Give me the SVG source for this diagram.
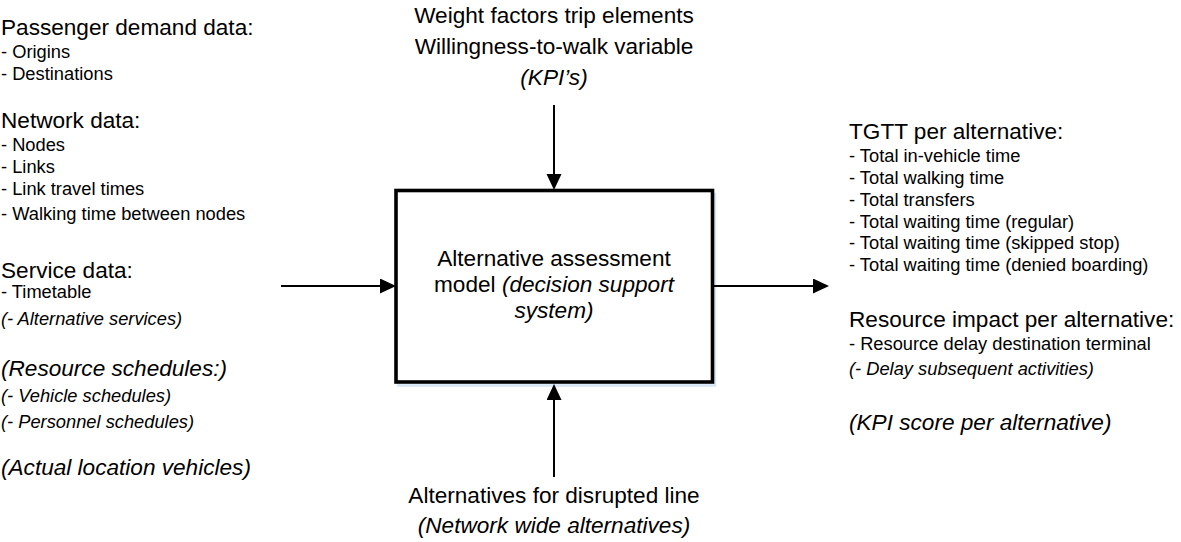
<svg xmlns="http://www.w3.org/2000/svg" width="1181" height="542" viewBox="0 0 1181 542">
  <style>
    text { font-family: "Liberation Sans", Arial, Helvetica, sans-serif; fill: #000; }
    .h { font-size: 22.6px; }
    .s { font-size: 18.3px; }
    .i { font-style: italic; }
    .c { text-anchor: middle; }
    .conn { stroke: #000; stroke-width: 2; fill: none; marker-end: url(#arrow); }
  </style>
  <defs>
    <marker id="arrow" markerUnits="userSpaceOnUse" markerWidth="17" markerHeight="16" refX="8" refY="7.5" orient="auto">
      <path d="M0,0 L16,7.5 L0,15 Z" fill="#000"/>
    </marker>
  </defs>

  <!-- inputs (left) -->
  <g id="inputs">
    <text class="h" x="1" y="35">Passenger demand data:</text>
    <text class="s" x="1" y="58">- Origins</text>
    <text class="s" x="1" y="80">- Destinations</text>
    <text class="h" x="1" y="128">Network data:</text>
    <text class="s" x="1" y="151">- Nodes</text>
    <text class="s" x="1" y="173">- Links</text>
    <text class="s" x="1" y="195">- Link travel times</text>
    <text class="s" x="1" y="220">- Walking time between nodes</text>
    <text class="h" x="1" y="278">Service data:</text>
    <text class="s" x="1" y="298">- Timetable</text>
    <text class="s i" x="1" y="325">(- Alternative services)</text>
    <text class="h i" x="1" y="376">(Resource schedules:)</text>
    <text class="s i" x="1" y="402">(- Vehicle schedules)</text>
    <text class="s i" x="1" y="428">(- Personnel schedules)</text>
    <text class="h i" x="1" y="475">(Actual location vehicles)</text>
  </g>

  <!-- controls (top) -->
  <g id="controls">
    <text class="h c" x="554" y="23">Weight factors trip elements</text>
    <text class="h c" x="554" y="54">Willingness-to-walk variable</text>
    <text class="h c i" x="554" y="85">(KPI’s)</text>
  </g>

  <!-- mechanisms (bottom) -->
  <g id="mechanisms">
    <text class="h c" x="554" y="503">Alternatives for disrupted line</text>
    <text class="h c i" x="554" y="533">(Network wide alternatives)</text>
  </g>

  <!-- outputs (right) -->
  <g id="outputs">
    <text class="h" x="849" y="139">TGTT per alternative:</text>
    <text class="s" x="849" y="162">- Total in-vehicle time</text>
    <text class="s" x="849" y="184">- Total walking time</text>
    <text class="s" x="849" y="206">- Total transfers</text>
    <text class="s" x="849" y="228">- Total waiting time (regular)</text>
    <text class="s" x="849" y="249">- Total waiting time (skipped stop)</text>
    <text class="s" x="849" y="271">- Total waiting time (denied boarding)</text>
    <text class="h" x="849" y="327">Resource impact per alternative:</text>
    <text class="s" x="849" y="350">- Resource delay destination terminal</text>
    <text class="s i" x="849" y="375">(- Delay subsequent activities)</text>
    <text class="h i" x="849" y="430">(KPI score per alternative)</text>
  </g>

  <!-- central model box, with its soft blue drop shadow -->
  <g id="model">
    <rect x="398.5" y="194" width="316.5" height="191.5" fill="none" stroke="#d6e5f6" stroke-width="2.5"/>
    <rect x="396" y="190.5" width="316.5" height="191.5" fill="#fff" stroke="#000" stroke-width="3.6"/>
    <text class="h c" x="554" y="266">Alternative assessment</text>
    <text class="h c" x="554" y="292">model <tspan class="i">(decision support</tspan></text>
    <text class="h c i" x="554" y="318">system)</text>
  </g>

  <!-- connectors -->
  <g id="connectors">
    <line class="conn" x1="281" y1="286" x2="388" y2="286"/>
    <line class="conn" x1="554" y1="105" x2="554" y2="182"/>
    <line class="conn" x1="554" y1="477" x2="554" y2="392"/>
    <line class="conn" x1="714" y1="286" x2="821" y2="286"/>
  </g>
</svg>
